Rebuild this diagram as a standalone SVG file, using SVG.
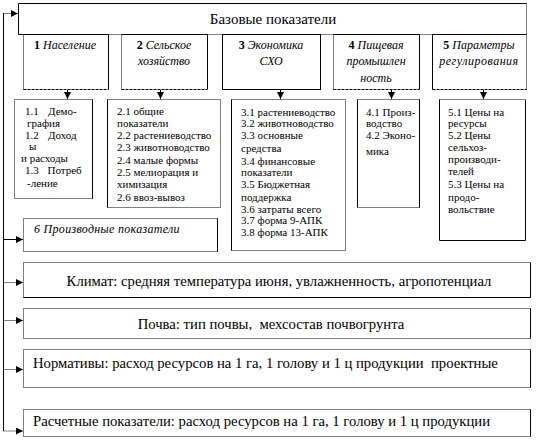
<svg xmlns="http://www.w3.org/2000/svg" width="545" height="447" viewBox="0 0 545 447" font-family="'Liberation Serif', 'Times New Roman', serif">
<style>
  text { fill: #000; }
  .t11 { font-size: 11px; }
  .t14 { font-size: 14.7px; }
  .it { font-size: 12px; font-style: italic; }
  .b { font-weight: bold; font-style: normal; }
  .bg { fill: #fff; stroke: none; }
  .sol { fill: none; stroke: #000; stroke-width: 1; }
  .dot { fill: none; stroke: #000; stroke-width: 1; stroke-dasharray: 1 1; }
  .dash { fill: none; stroke: #000; stroke-width: 1; stroke-dasharray: 3 1; }
  .con { fill: none; stroke: #000; stroke-width: 1; }
</style>
<defs>
  <marker id="ah" markerUnits="userSpaceOnUse" markerWidth="8" markerHeight="8" refX="7" refY="3.5" orient="auto">
    <path d="M0,0 L7,3.5 L0,7 Z" fill="#000"/>
  </marker>
</defs>
<rect width="545" height="447" fill="#fff"/>

<g id="connectors">
  <line class="con" x1="3.5" y1="13" x2="3.5" y2="431"/>
  <line class="dot" x1="3.5" y1="13.5" x2="18" y2="13.5" marker-end="url(#ah)"/>
  <line class="con" x1="3.5" y1="239.5" x2="23" y2="239.5" marker-end="url(#ah)"/>
  <line class="dot" x1="3.5" y1="282.5" x2="23" y2="282.5" marker-end="url(#ah)"/>
  <line class="dot" x1="3.5" y1="320.5" x2="23" y2="320.5" marker-end="url(#ah)"/>
  <line class="dot" x1="3.5" y1="369.5" x2="23" y2="369.5" marker-end="url(#ah)"/>
  <line class="dot" x1="3.5" y1="431" x2="23" y2="431" marker-end="url(#ah)"/>
  <line class="con" x1="67.5" y1="90" x2="67.5" y2="99" marker-end="url(#ah)"/>
  <line class="con" x1="160.5" y1="90" x2="160.5" y2="99" marker-end="url(#ah)"/>
  <line class="con" x1="280.5" y1="90" x2="280.5" y2="99" marker-end="url(#ah)"/>
  <line class="con" x1="391.5" y1="90" x2="391.5" y2="99" marker-end="url(#ah)"/>
  <line class="con" x1="483.5" y1="90" x2="483.5" y2="99" marker-end="url(#ah)"/>
</g>

<g id="base">
  <rect class="bg" x="18.5" y="3.5" width="508" height="31"/>
  <path class="sol" d="M526.5,3.5 H18.5 V34.5 H23"/>
  <path class="dot" d="M526.5,3.5 V34.5 H23"/>
  <text x="273" y="24" text-anchor="middle" style="font-size:15px">Базовые показатели</text>
</g>

<g id="n1">
  <rect class="bg" x="23.5" y="34.5" width="85" height="55"/>
  <path class="sol" d="M23.5,34.5 H108.5 V89.5"/>
  <path class="dot" d="M23.5,34.5 V89.5"/>
  <path class="dash" d="M23.5,89.5 H108.5"/>
  <text class="it" x="65" y="48.5" text-anchor="middle"><tspan class="b">1</tspan> Население</text>
</g>
<g id="n2">
  <rect class="bg" x="121.5" y="34.5" width="86" height="55"/>
  <path class="sol" d="M121.5,34.5 H207.5 V89.5"/>
  <path class="dot" d="M121.5,34.5 V89.5"/>
  <path class="dash" d="M121.5,89.5 H207.5"/>
  <text class="it" x="164" y="48.5" text-anchor="middle"><tspan class="b">2</tspan> Сельское</text>
  <text class="it" x="164" y="65" text-anchor="middle">хозяйство</text>
</g>
<g id="n3">
  <rect class="sol" x="222.5" y="34.5" width="98" height="55" fill="#fff"/>
  <text class="it" x="271" y="48.5" text-anchor="middle"><tspan class="b">3</tspan> Экономика</text>
  <text class="it" x="271" y="65" text-anchor="middle">СХО</text>
</g>
<g id="n4">
  <rect class="bg" x="333.5" y="34.5" width="86" height="55"/>
  <path class="sol" d="M333.5,34.5 H419.5 V89.5"/>
  <path class="dot" d="M333.5,34.5 V89.5"/>
  <path class="dash" d="M333.5,89.5 H419.5"/>
  <text class="it" x="376" y="48.5" text-anchor="middle"><tspan class="b">4</tspan> Пищевая</text>
  <text class="it" x="376" y="65" text-anchor="middle">промышлен</text>
  <text class="it" x="376" y="82" text-anchor="middle">ность</text>
</g>
<g id="n5">
  <rect class="bg" x="432.5" y="34.5" width="94" height="55"/>
  <path class="sol" d="M526.5,34.5 H432.5 V89.5"/>
  <path class="dot" d="M526.5,34.5 V89.5"/>
  <path class="dash" d="M432.5,89.5 H526.5"/>
  <text class="it" x="479" y="48.5" text-anchor="middle"><tspan class="b">5</tspan> Параметры</text>
  <text class="it" x="479" y="65" text-anchor="middle" style="letter-spacing:0.5px">регулирования</text>
</g>

<g id="n1x">
  <rect class="bg" x="14.5" y="99.5" width="78" height="99"/>
  <rect class="dot" x="14.5" y="99.5" width="78" height="99"/>
  <path class="sol" d="M92.5,99.5 V198.5"/>
  <text class="t11">
    <tspan x="25" y="114.7">1.1</tspan><tspan x="48" y="114.7">Демо-</tspan>
    <tspan x="27" y="127.3">графия</tspan>
    <tspan x="25" y="138.5">1.2</tspan><tspan x="48" y="138.5">Доход</tspan>
    <tspan x="29" y="150">ы</tspan>
    <tspan x="21" y="162.3">и расходы</tspan>
    <tspan x="25" y="174">1.3</tspan><tspan x="47.5" y="174">Потреб</tspan>
    <tspan x="27" y="186.7">-ление</tspan>
  </text>
</g>
<g id="n2x">
  <rect class="bg" x="107.5" y="99.5" width="113" height="108"/>
  <rect class="dot" x="107.5" y="99.5" width="113" height="108"/>
  <path class="sol" d="M107.5,99.5 V207.5"/>
  <text class="t11">
    <tspan x="117" y="115">2.1 общие</tspan>
    <tspan x="117" y="127.3">показатели</tspan>
    <tspan x="117" y="139">2.2 растениеводство</tspan>
    <tspan x="117" y="151.3">2.3 животноводство</tspan>
    <tspan x="117" y="164">2.4 малые формы</tspan>
    <tspan x="117" y="176.3">2.5 мелиорация и</tspan>
    <tspan x="117" y="188.3">химизация</tspan>
    <tspan x="117" y="200.7">2.6 ввоз-вывоз</tspan>
  </text>
</g>
<g id="n3x">
  <rect class="bg" x="231.5" y="99.5" width="114" height="151"/>
  <rect class="dot" x="231.5" y="99.5" width="114" height="151"/>
  <path class="sol" d="M231.5,99.5 V250.5"/>
  <text class="t11">
    <tspan x="241" y="115.5">3.1 растениеводство</tspan>
    <tspan x="241" y="127.3">3.2 животноводство</tspan>
    <tspan x="241" y="139">3.3 основные</tspan>
    <tspan x="241" y="152.3">средства</tspan>
    <tspan x="241" y="164.7">3.4 финансовые</tspan>
    <tspan x="241" y="175.7">показатели</tspan>
    <tspan x="241" y="188">3.5 Бюджетная</tspan>
    <tspan x="241" y="201.3">поддержка</tspan>
    <tspan x="241" y="212.7">3.6 затраты всего</tspan>
    <tspan x="241" y="224">3.7 форма 9-АПК</tspan>
    <tspan x="241" y="235.7">3.8 форма 13-АПК</tspan>
  </text>
</g>
<g id="n4x">
  <rect class="bg" x="357.5" y="99.5" width="62" height="108"/>
  <rect class="dot" x="357.5" y="99.5" width="62" height="108"/>
  <path class="sol" d="M357.5,99.5 V207.5 M419.5,99.5 V207.5"/>
  <text class="t11">
    <tspan x="366" y="115.5">4.1 Произ-</tspan>
    <tspan x="366" y="127.3">водство</tspan>
    <tspan x="366" y="138.5">4.2 Эконо-</tspan>
    <tspan x="366" y="154.7">мика</tspan>
  </text>
</g>
<g id="n5x">
  <rect class="bg" x="439.5" y="99.5" width="86" height="141"/>
  <path class="dot" d="M439.5,99.5 H525.5"/>
  <path class="sol" d="M525.5,99.5 V240.5 H439.5 V99.5"/>
  <text class="t11">
    <tspan x="448" y="115.5">5.1 Цены на</tspan>
    <tspan x="448" y="127.3">ресурсы</tspan>
    <tspan x="448" y="139">5.2 Цены</tspan>
    <tspan x="448" y="151.3">сельхоз-</tspan>
    <tspan x="448" y="163.3">производи-</tspan>
    <tspan x="448" y="175">телей</tspan>
    <tspan x="448" y="188">5.3 Цены на</tspan>
    <tspan x="448" y="201.3">продо-</tspan>
    <tspan x="448" y="213">вольствие</tspan>
  </text>
</g>

<g id="n6">
  <rect class="bg" x="23.5" y="218.5" width="194" height="33"/>
  <rect class="dot" x="23.5" y="218.5" width="194" height="33"/>
  <path class="sol" d="M217.5,218.5 V251.5"/>
  <text class="it" x="34" y="233" style="letter-spacing:0.3px">6 Производные показатели</text>
</g>

<g id="climate">
  <rect class="bg" x="23.5" y="262.5" width="507" height="35"/>
  <rect class="dot" x="23.5" y="262.5" width="507" height="35"/>
  <path class="sol" d="M530.5,262.5 V297.5 H23.5"/>
  <text class="t14" x="279" y="285.5" text-anchor="middle">Климат: средняя температура июня, увлажненность, агропотенциал</text>
</g>
<g id="soil">
  <rect class="bg" x="23.5" y="308.5" width="507" height="30"/>
  <rect class="dot" x="23.5" y="308.5" width="507" height="30"/>
  <path class="sol" d="M530.5,308.5 V338.5"/>
  <text class="t14" x="271" y="328.5" text-anchor="middle" xml:space="preserve">Почва: тип почвы,  мехсостав почвогрунта</text>
</g>
<g id="norm">
  <rect class="bg" x="23.5" y="349.5" width="507" height="38"/>
  <rect class="dot" x="23.5" y="349.5" width="507" height="38"/>
  <path class="sol" d="M530.5,349.5 V387.5"/>
  <text class="t14" x="33" y="367.5" xml:space="preserve">Нормативы: расход ресурсов на 1 га, 1 голову и 1 ц продукции  проектные</text>
</g>
<g id="calc">
  <rect class="bg" x="23.5" y="409.5" width="507" height="27"/>
  <rect class="dot" x="23.5" y="409.5" width="507" height="27"/>
  <path class="sol" d="M530.5,409.5 V436.5"/>
  <text class="t14" x="33" y="425.5">Расчетные показатели: расход ресурсов на 1 га, 1 голову и 1 ц продукции</text>
</g>
</svg>
